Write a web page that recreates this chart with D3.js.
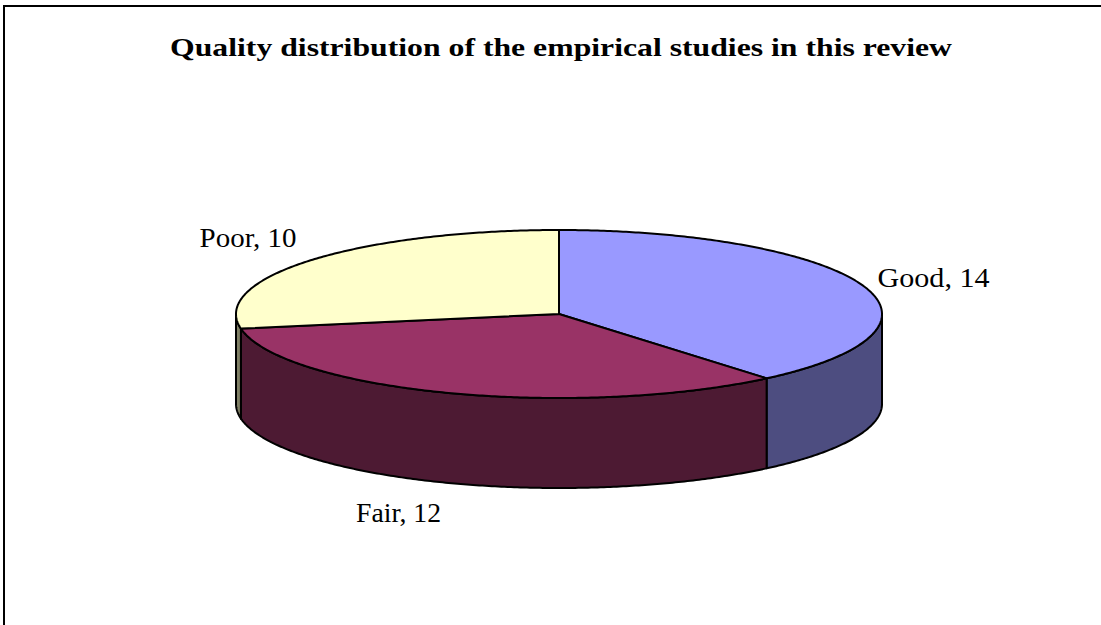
<!DOCTYPE html>
<html>
<head>
<meta charset="utf-8">
<script src="https://cdnjs.cloudflare.com/ajax/libs/d3/7.8.5/d3.min.js"></script>
<style>
  body { margin: 0; background: #fff; }
  text { font-family: "Liberation Serif", "DejaVu Serif", serif; fill: #000; }
</style>
</head>
<body>
<div id="container"></div>
<script>
// container window size
let cwH = 625;
let cwW = 1101;

// data
const categories = ["Good", "Fair", "Poor"];
const counts = [14, 12, 10];
const topColors = ["#9999ff", "#993366", "#ffffcc"];
const wallColors = ["#4d4d80", "#4d1a33", "#808066"];
const chartTitle = "Quality distribution of the empirical studies in this review";

// pie geometry (flattened ellipse + wall depth)
const cx = 559;
const cy = 314;
const rx = 323;
const ry = 84;
const depth = 90;

// label nudges from the slice mid point (layout only)
const labelNudge = {
  Good: {dx: 15, dy: 2, anchor: "start", len: 112},
  Fair: {dx: -50, dy: 39, anchor: "middle", len: 85},
  Poor: {dx: -15, dy: -13, anchor: "end", len: 97}
};

let svgArea = d3.select("#container")
                .append("svg")
                .attr("width", cwW)
                .attr("height", cwH);

// frame
svgArea.append("rect")
  .attr("x", 4)
  .attr("y", 6)
  .attr("width", cwW + 20)
  .attr("height", cwH + 20)
  .attr("fill", "white")
  .attr("stroke", "#000")
  .attr("stroke-width", 2);

// title
svgArea.append("text")
  .attr("x", 561)
  .attr("y", 56)
  .attr("text-anchor", "middle")
  .attr("font-size", 26)
  .attr("font-weight", "bold")
  .attr("textLength", 782)
  .attr("lengthAdjust", "spacingAndGlyphs")
  .text(chartTitle);

/**************************
* helpers
**************************/
// angle measured clockwise from 12 o'clock
function ex(a) { return cx + rx * Math.sin(a); }
function ey(a) { return cy - ry * Math.cos(a); }

function arcPoints(a0, a1, yOff) {
  let n = Math.max(2, Math.ceil(Math.abs(a1 - a0) / 0.01));
  return d3.range(n + 1).map(function(i){
    let a = a0 + (a1 - a0) * i / n;
    return [ex(a), ey(a) + yOff];
  });
}

let line = d3.line();

/**************************
* Draw pie
**************************/
let pieData = d3.pie().sort(null).value(function(d){ return d.value; })(
  categories.map(function(c, i){ return {name: c, value: counts[i], i: i}; })
);

// walls: only the front half (90deg..270deg) is visible
let walls = svgArea.append("g").attr("id", "walls");
pieData.forEach(function(d){
  let s = Math.max(d.startAngle, Math.PI/2);
  let e = Math.min(d.endAngle, 3*Math.PI/2);
  if (e <= s) return;
  let pts = arcPoints(s, e, 0).concat(arcPoints(e, s, depth));
  walls.append("path")
    .attr("d", line(pts) + "Z")
    .attr("fill", wallColors[d.data.i])
    .attr("stroke", "#000")
    .attr("stroke-width", 2)
    .attr("stroke-linejoin", "round");
});

// top faces
svgArea.append("g")
  .attr("id", "tops")
  .selectAll("path")
  .data(pieData)
  .enter()
  .append("path")
  .attr("d", function(d){
    return line([[cx, cy]].concat(arcPoints(d.startAngle, d.endAngle, 0))) + "Z";
  })
  .attr("fill", function(d){ return topColors[d.data.i]; })
  .attr("stroke", "#000")
  .attr("stroke-width", 2)
  .attr("stroke-linejoin", "round");

// labels
svgArea.append("g")
  .attr("id", "labels")
  .selectAll("text")
  .data(pieData)
  .enter()
  .append("text")
  .attr("x", function(d){
    let m = (d.startAngle + d.endAngle) / 2;
    return ex(m) + labelNudge[d.data.name].dx;
  })
  .attr("y", function(d){
    let m = (d.startAngle + d.endAngle) / 2;
    let front = Math.cos(m) < -0.5 ? depth : 0;
    return ey(m) + front + labelNudge[d.data.name].dy;
  })
  .attr("text-anchor", function(d){ return labelNudge[d.data.name].anchor; })
  .attr("font-size", 27)
  .attr("textLength", function(d){ return labelNudge[d.data.name].len; })
  .attr("lengthAdjust", "spacingAndGlyphs")
  .text(function(d){ return d.data.name + ", " + d.data.value; });
</script>
</body>
</html>
